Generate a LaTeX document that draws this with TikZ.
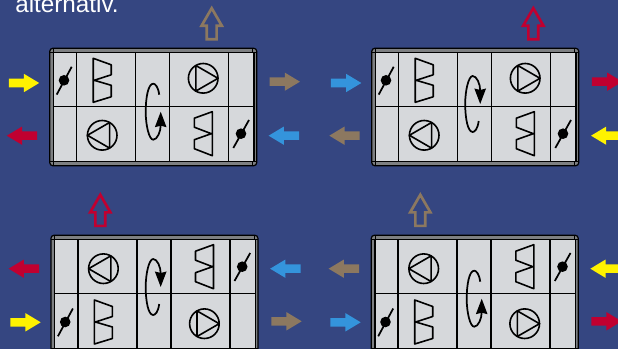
\documentclass[tikz,border=0pt]{standalone}
\usepackage{fontspec}
\setmainfont{Liberation Sans}
\usetikzlibrary{arrows.meta,shapes.arrows}
\definecolor{slide}{HTML}{354681}
\definecolor{casing}{HTML}{D6D8DB}
\definecolor{rail}{HTML}{7E8082}
\definecolor{fresh}{HTML}{FFF200}
\definecolor{exhaust}{HTML}{C00030}
\definecolor{indoor}{HTML}{3494DC}
\definecolor{stale}{HTML}{8C7860}

\begin{document}
\begin{tikzpicture}[x=0.75pt,y=-0.75pt,
    flowarrow/.style={single arrow,draw=none,anchor=tail,inner xsep=0pt,inner ysep=3pt,minimum height=22.8pt,
      single arrow head extend=3.65pt,single arrow tip angle=62},
    outarrow/.style={single arrow,fill=none,anchor=tail,line width=2pt,inner xsep=0pt,inner ysep=2.7pt,minimum height=23.3pt,
      single arrow head extend=3.9pt,single arrow tip angle=60,rotate=90},
    symbol/.style={line width=1.2pt,line join=round}]
  \useasboundingbox (0,0) rectangle (618,349);
  \clip (0,0) rectangle (618,349);
  \fill[slide] (0,0) rectangle (618,349);
  \node[anchor=base west,inner sep=0pt,text=white,font=\fontsize{18.2}{20}\selectfont] (caption) at (15,12.3) {alternativ.};
  % panel: offset, exchanger rows, fan rows, rotor centre, turn
  \foreach \px/\py/\ya/\yb/\fa/\fb/\rx/\ry/\spin in {
    0/0/80.3/133.7/78.3/135.3/153.2/111.7/1,
    322/0/80.3/133.7/78.3/135.3/150.7/104/-1,
    1.2/187/135/79.7/136.7/81.7/152/100/-1,
    321.5/187/135/79.7/136.7/81.7/152.7/111.7/1}{
    \begin{scope}[shift={(\px,\py)}]
      \draw[line width=0.9pt,rounded corners=2.2pt,fill=rail,draw=black] (49.8,48.3) rectangle (256.7,165.7);
      \draw[fill=casing,line width=0.9pt] (53.5,52.3) rectangle (254,161.7);
      \foreach \cx/\cy/\ax/\ay in {51.6/50.1/1/1,254.9/50.1/-1/1,51.6/163.9/1/-1,254.9/163.9/-1/-1}{
        \draw[line width=0.7pt] (\cx+2*\ax,\cy-1.6*\ay) -- (\cx+2*\ax,\cy+2*\ay) -- (\cx-1.6*\ax,\cy+2*\ay);
      }
      \draw[line width=1.1pt] (53.5,106.5) -- (254,106.5);
      \foreach \cut in {76.7,135.6,169.6,228.6}{
        \draw[line width=1.1pt] (\cut,52.3) -- (\cut,161.7);
      }
      \draw[symbol,shift={(93.2,\ya)}] (0,-22) -- (18,-15.5) -- (18,-5.5) -- (1,0) -- (18,5) -- (18,16.5) -- (0,22) -- cycle;
      \draw[symbol,shift={(212.3,\yb)},xscale=-1] (0,-22) -- (18,-15.5) -- (18,-6.5) -- (1,0) -- (18,6) -- (18,15) -- (0,22) -- cycle;
      \draw[symbol] (203.2,\fa) circle[radius=14.8];
      \draw[symbol,shift={(203.2,\fa)}] (0:14.8) -- (120:14.8) -- (240:14.8) -- cycle;
      \draw[symbol] (102.2,\fb) circle[radius=14.8];
      \draw[symbol,shift={(102.2,\fb)}] (180:14.8) -- (300:14.8) -- (60:14.8) -- cycle;
      \fill (64,\ya) circle[radius=5.3];
      \draw[line width=1.3pt] (56.7,\ya+14.3) -- (71.7,\ya-13.5);
      \fill (241,\yb) circle[radius=5.3];
      \draw[line width=1.3pt] (233.3,\yb+14.3) -- (249,\yb-13.7);
      \draw[line width=1.3pt,-{Stealth[length=11.5pt,width=8.5pt,inset=1pt]},shift={(\rx,\ry)},yscale=\spin]
        (6,-17) .. controls (5,-25) and (2,-28) .. (0,-28) .. controls (-5,-28) and (-7.5,-14) .. (-7.5,0)
        .. controls (-7.5,14) and (-4,28) .. (0,28) .. controls (4,28) and (7.5,20) .. (7.5,0);
    \end{scope}
  }
  % air streams on both sides
  \foreach \x/\y/\flow/\turn [count=\i] in {
    8.5/83/fresh/0, 37.5/135.7/exhaust/180, 269.3/81.7/stale/0, 299.3/135.7/indoor/180,
    330.7/83/indoor/0, 360/135.7/stale/180, 591.7/81.7/exhaust/0, 621.7/135.7/fresh/180,
    39.3/268.7/exhaust/180, 10/322.3/fresh/0, 300.8/268.7/indoor/180, 271/321.3/stale/0,
    359.3/268.7/stale/180, 330/322.3/indoor/0, 621/268.7/fresh/180, 591/321.3/exhaust/0}{
    \node[flowarrow,fill=\flow,rotate=\turn] (stream\i) at (\x,\y) {};
  }
  \foreach \x/\y/\flow [count=\i] in {211.7/40.6/stale, 533.3/40.6/exhaust, 100.3/227.2/exhaust, 420.3/227.2/stale}{
    \node[outarrow,draw=\flow] (outlet\i) at (\x,\y) {};
  }
\end{tikzpicture}
\end{document}
